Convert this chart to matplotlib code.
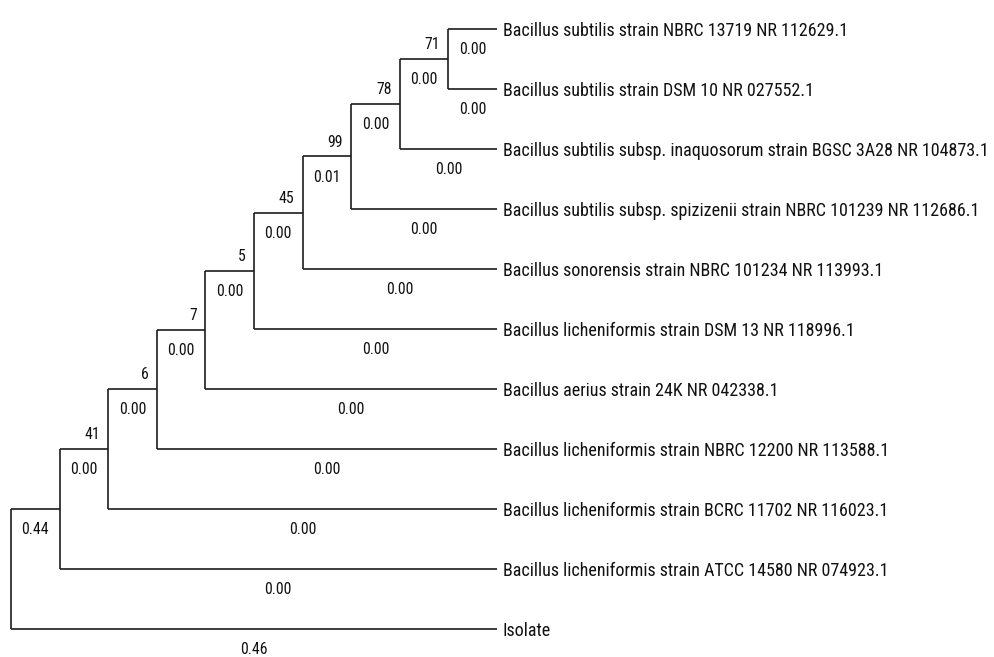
import matplotlib
matplotlib.use("Agg")
import matplotlib.pyplot as plt

# tree data (ladder-shaped tree, tips from top to bottom)
leaf_names = [
    "Bacillus subtilis strain NBRC 13719 NR 112629.1",
    "Bacillus subtilis strain DSM 10 NR 027552.1",
    "Bacillus subtilis subsp. inaquosorum strain BGSC 3A28 NR 104873.1",
    "Bacillus subtilis subsp. spizizenii strain NBRC 101239 NR 112686.1",
    "Bacillus sonorensis strain NBRC 101234 NR 113993.1",
    "Bacillus licheniformis strain DSM 13 NR 118996.1",
    "Bacillus aerius strain 24K NR 042338.1",
    "Bacillus licheniformis strain NBRC 12200 NR 113588.1",
    "Bacillus licheniformis strain BCRC 11702 NR 116023.1",
    "Bacillus licheniformis strain ATCC 14580 NR 074923.1",
    "Isolate",
]
leaf_lengths = [0.00, 0.00, 0.00, 0.00, 0.00, 0.00, 0.00, 0.00, 0.00, 0.00, 0.46]

# internal clades, innermost first; each one joins the previous clade
# (the first joins tips 0 and 1) with the next tip down
clade_support = [71, 78, 99, 45, 5, 7, 6, 41, None]
clade_lengths = [0.00, 0.00, 0.01, 0.00, 0.00, 0.00, 0.00, 0.00, 0.44]

n_leaf = len(leaf_names)
n_clade = len(clade_support)

# cladogram layout: one step per level, all tips aligned
clade_x = [n_clade - k for k in range(n_clade)] + [0]
leaf_x = n_clade + 1
leaf_y = list(range(n_leaf))
clade_y = []
for k in range(n_clade + 1):
    if k == 0:
        clade_y.append((leaf_y[0] + leaf_y[1]) / 2)
    else:
        clade_y.append((clade_y[k - 1] + leaf_y[k + 1]) / 2)

lc = "#1c1c1c"
tc = "#111111"
fam = ["Roboto Condensed", "DejaVu Sans"]

fig = plt.figure(figsize=(9.95, 6.57), dpi=100)
ax = fig.add_axes([0, 0, 1, 1])
ax.set_xlim(-0.226, 20.25)
ax.set_ylim(10.467, -0.483)
ax.axis("off")

# size the condensed font so the widest name is as wide as in the picture
r = fig.canvas.get_renderer()


def text_width(s):
    t = fig.text(0, 0, s, fontsize=10, family=fam)
    w = t.get_window_extent(r).width
    t.remove()
    return w


name_fs = 10 * 484 / max(text_width(s) for s in leaf_names)
num_fs = 10 * 27 / text_width("0.00")

# vertical connectors
for k in range(n_clade + 1):
    top = leaf_y[0] if k == 0 else clade_y[k - 1]
    bottom = leaf_y[1] if k == 0 else leaf_y[k + 1]
    ax.plot([clade_x[k], clade_x[k]], [top, bottom], color=lc, lw=1.2,
            solid_capstyle="butt")

# tip branches
for i, name in enumerate(leaf_names):
    parent = max(i - 1, 0)
    x0 = clade_x[parent]
    ax.plot([x0, leaf_x], [leaf_y[i], leaf_y[i]], color=lc, lw=1.2,
            solid_capstyle="butt")
    ax.annotate(name, (leaf_x, leaf_y[i]), xytext=(4.3, 0),
                textcoords="offset points", ha="left", va="center_baseline",
                fontsize=name_fs, family=fam, color=tc)
    ax.annotate(f"{leaf_lengths[i]:.2f}", ((x0 + leaf_x) / 2, leaf_y[i]),
                xytext=(0, -13.7), textcoords="offset points",
                ha="center", va="center_baseline", fontsize=num_fs,
                family=fam, color=tc)

# internal branches with support values
for k in range(n_clade):
    x0 = clade_x[k + 1]
    x1 = clade_x[k]
    y = clade_y[k]
    ax.plot([x0, x1], [y, y], color=lc, lw=1.2, solid_capstyle="butt")
    ax.annotate(f"{clade_lengths[k]:.2f}", ((x0 + x1) / 2, y),
                xytext=(0, -13.7), textcoords="offset points",
                ha="center", va="center_baseline", fontsize=num_fs,
                family=fam, color=tc)
    if clade_support[k] is not None:
        ax.annotate(str(clade_support[k]), (x1, y), xytext=(-5.8, 11.5),
                    textcoords="offset points", ha="right",
                    va="center_baseline", fontsize=num_fs, family=fam,
                    color=tc)

fig.savefig("out.png", dpi=100)
